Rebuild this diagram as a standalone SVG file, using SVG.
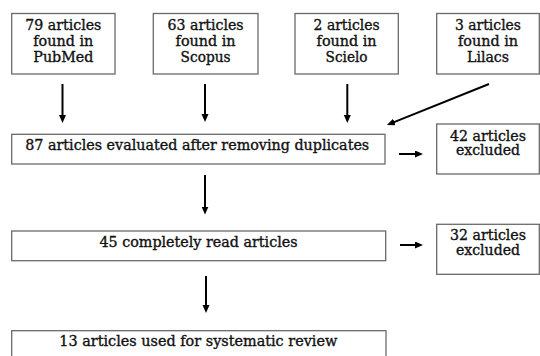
<svg xmlns="http://www.w3.org/2000/svg" width="540" height="356" viewBox="0 0 540 356">
<style>
.box{fill:#fff;stroke:#6a6a6a;stroke-width:1.3}
.t{font-family:"DejaVu Serif","Liberation Serif",serif;font-size:14px;fill:#111;stroke:#111;stroke-width:0.35;text-anchor:middle}
.c{stroke:#000;stroke-width:2;fill:none;marker-end:url(#ah)}
</style>
<defs>
<marker id="ah" markerUnits="userSpaceOnUse" markerWidth="9" markerHeight="8" refX="3" refY="3.5" orient="auto">
<path d="M0,0 L8,3.5 L0,7 z" fill="#000"/>
</marker>
</defs>
<rect width="540" height="356" fill="#fff"/>
<g id="pubmed">
<rect class="box" x="11.7" y="13.5" width="103.3" height="60.5"/>
<text class="t"><tspan x="63.3" y="30" textLength="76" lengthAdjust="spacingAndGlyphs">79 articles</tspan><tspan x="63.3" y="46" textLength="60" lengthAdjust="spacingAndGlyphs">found in</tspan><tspan x="63.3" y="62" textLength="60" lengthAdjust="spacingAndGlyphs">PubMed</tspan></text>
</g>
<g id="scopus">
<rect class="box" x="153.3" y="13.5" width="104.7" height="60.5"/>
<text class="t"><tspan x="205.6" y="30" textLength="76" lengthAdjust="spacingAndGlyphs">63 articles</tspan><tspan x="205.6" y="46" textLength="60" lengthAdjust="spacingAndGlyphs">found in</tspan><tspan x="205.6" y="62" textLength="50" lengthAdjust="spacingAndGlyphs">Scopus</tspan></text>
</g>
<g id="scielo">
<rect class="box" x="295" y="13.5" width="103.3" height="60.5"/>
<text class="t"><tspan x="346.6" y="30" textLength="66" lengthAdjust="spacingAndGlyphs">2 articles</tspan><tspan x="346.6" y="46" textLength="60" lengthAdjust="spacingAndGlyphs">found in</tspan><tspan x="346.6" y="62" textLength="42" lengthAdjust="spacingAndGlyphs">Scielo</tspan></text>
</g>
<g id="lilacs">
<rect class="box" x="436.7" y="13.5" width="102.6" height="60.5"/>
<text class="t"><tspan x="488" y="30" textLength="66" lengthAdjust="spacingAndGlyphs">3 articles</tspan><tspan x="488" y="46" textLength="60" lengthAdjust="spacingAndGlyphs">found in</tspan><tspan x="488" y="62" textLength="42" lengthAdjust="spacingAndGlyphs">Lilacs</tspan></text>
</g>
<g id="evaluated">
<rect class="box" x="11.7" y="134.3" width="373.3" height="29.7"/>
<text class="t" x="197.2" y="150" textLength="344" lengthAdjust="spacingAndGlyphs">87 articles evaluated after removing duplicates</text>
</g>
<g id="excluded42">
<rect class="box" x="436.7" y="124" width="102.6" height="50"/>
<text class="t"><tspan x="488" y="140.5" textLength="76" lengthAdjust="spacingAndGlyphs">42 articles</tspan><tspan x="488" y="155" textLength="64" lengthAdjust="spacingAndGlyphs">excluded</tspan></text>
</g>
<g id="read">
<rect class="box" x="11.7" y="231" width="374" height="29.7"/>
<text class="t" x="198.5" y="246.7" textLength="198" lengthAdjust="spacingAndGlyphs">45 completely read articles</text>
</g>
<g id="excluded32">
<rect class="box" x="436.7" y="224.3" width="102.6" height="50"/>
<text class="t"><tspan x="488" y="240" textLength="76" lengthAdjust="spacingAndGlyphs">32 articles</tspan><tspan x="488" y="254.7" textLength="64" lengthAdjust="spacingAndGlyphs">excluded</tspan></text>
</g>
<g id="review">
<rect class="box" x="11.7" y="330.7" width="374.3" height="30"/>
<text class="t" x="198.3" y="346" textLength="278" lengthAdjust="spacingAndGlyphs">13 articles used for systematic review</text>
</g>
<g id="connectors">
<line class="c" x1="62.5" y1="84" x2="62.5" y2="118"/>
<line class="c" x1="205" y1="84" x2="205" y2="117"/>
<line class="c" x1="347.3" y1="84" x2="347.3" y2="118"/>
<line class="c" x1="489" y1="84" x2="391.6" y2="123.1"/>
<line class="c" x1="399" y1="154" x2="418" y2="154"/>
<line class="c" x1="205" y1="175" x2="205" y2="209.5"/>
<line class="c" x1="400" y1="245" x2="418" y2="245"/>
<line class="c" x1="206" y1="276" x2="206" y2="308"/>
</g>
</svg>
